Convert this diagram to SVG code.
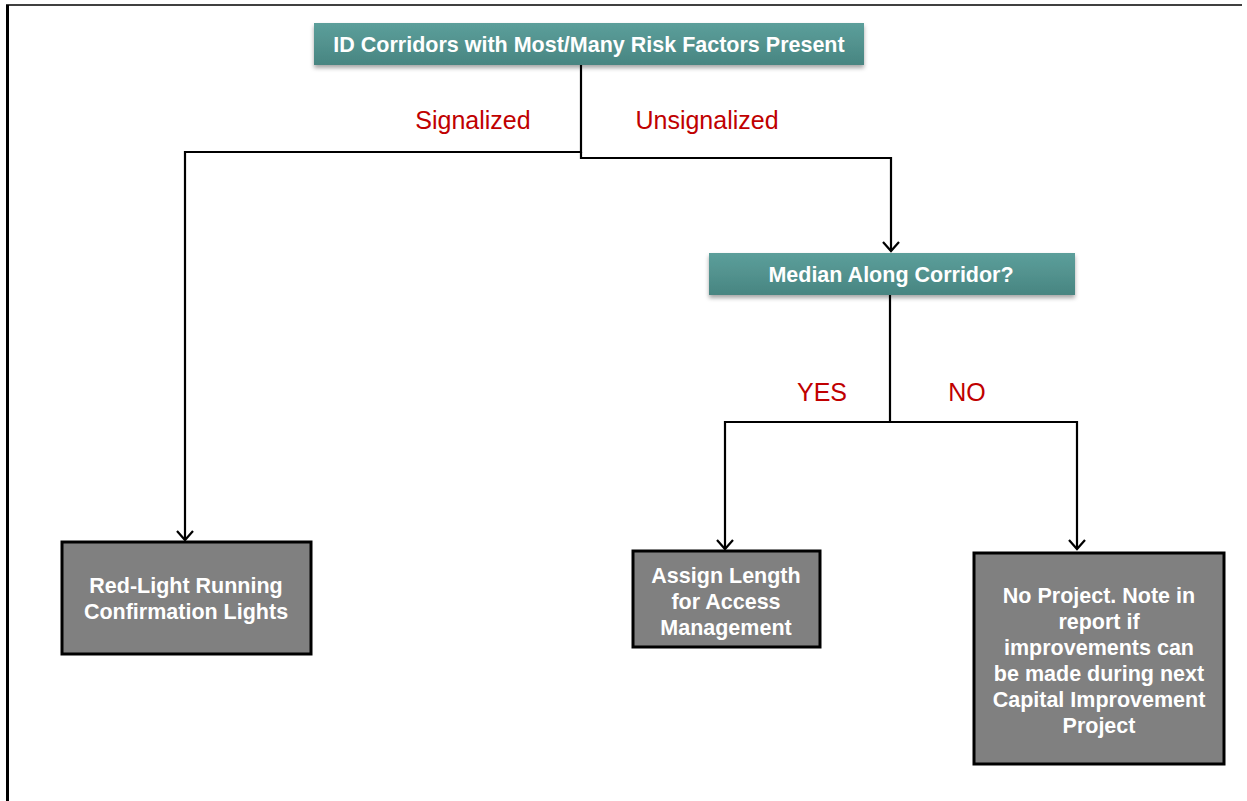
<svg xmlns="http://www.w3.org/2000/svg" width="1247" height="801" viewBox="0 0 1247 801">
<defs>
<linearGradient id="teal" x1="0" y1="0" x2="0" y2="1">
<stop offset="0" stop-color="#5c9f9b"/>
<stop offset="1" stop-color="#488581"/>
</linearGradient>
<filter id="sh" x="-5%" y="-20%" width="110%" height="150%">
<feDropShadow dx="0" dy="3" stdDeviation="2" flood-color="#000" flood-opacity="0.35"/>
</filter>
<marker id="arr" markerWidth="20" markerHeight="20" refX="15" refY="10" orient="auto" markerUnits="userSpaceOnUse" viewBox="0 0 20 20">
<path d="M6,2 L15,10 L6,18" fill="none" stroke="#000" stroke-width="2.2"/>
</marker>
</defs>
<style>
.teal{fill:url(#teal);filter:url(#sh)}
.gray{fill:#808080;stroke:#000;stroke-width:3}
.tw{font-family:"Liberation Sans",Arial,sans-serif;font-weight:bold;font-size:21.5px;fill:#fff;text-anchor:middle}
.lbl{font-family:"Liberation Sans",Arial,sans-serif;font-size:25px;fill:#c00000;text-anchor:middle}
.c{fill:none;stroke:#000;stroke-width:2.2}
</style>
<g id="frame">
<line x1="6" y1="5" x2="1242" y2="5" stroke="#000" stroke-width="1.5"/>
<line x1="7.5" y1="5" x2="7.5" y2="801" stroke="#000" stroke-width="3"/>
</g>
<g id="connectors">
<path class="c" d="M581,65 V152 H185 V540" marker-end="url(#arr)"/>
<path class="c" d="M581,152 V158 H891 V251" marker-end="url(#arr)"/>
<path class="c" d="M890,295 V422 H725 V549" marker-end="url(#arr)"/>
<path class="c" d="M890,422 H1077 V549" marker-end="url(#arr)"/>
</g>
<g id="labels">
<text class="lbl" x="473" y="129">Signalized</text>
<text class="lbl" x="707" y="129">Unsignalized</text>
<text class="lbl" x="822" y="401">YES</text>
<text class="lbl" x="967" y="401">NO</text>
</g>
<g id="n-top">
<rect class="teal" x="314" y="23" width="550" height="42"/>
<text class="tw" x="589" y="52">ID Corridors with Most/Many Risk Factors Present</text>
</g>
<g id="n-median">
<rect class="teal" x="709" y="253" width="366" height="42"/>
<text class="tw" x="891" y="282">Median Along Corridor?</text>
</g>
<g id="n-redlight">
<rect class="gray" x="62" y="542" width="249" height="112"/>
<text class="tw" x="186" y="593">Red-Light Running</text>
<text class="tw" x="186" y="619">Confirmation Lights</text>
</g>
<g id="n-assign">
<rect class="gray" x="633" y="551" width="187" height="96"/>
<text class="tw" x="726" y="583">Assign Length</text>
<text class="tw" x="726" y="609">for Access</text>
<text class="tw" x="726" y="635">Management</text>
</g>
<g id="n-noproject">
<rect class="gray" x="974" y="553" width="250" height="211"/>
<text class="tw" x="1099" y="603">No Project. Note in</text>
<text class="tw" x="1099" y="629">report if</text>
<text class="tw" x="1099" y="655">improvements can</text>
<text class="tw" x="1099" y="681">be made during next</text>
<text class="tw" x="1099" y="707">Capital Improvement</text>
<text class="tw" x="1099" y="733">Project</text>
</g>
</svg>
